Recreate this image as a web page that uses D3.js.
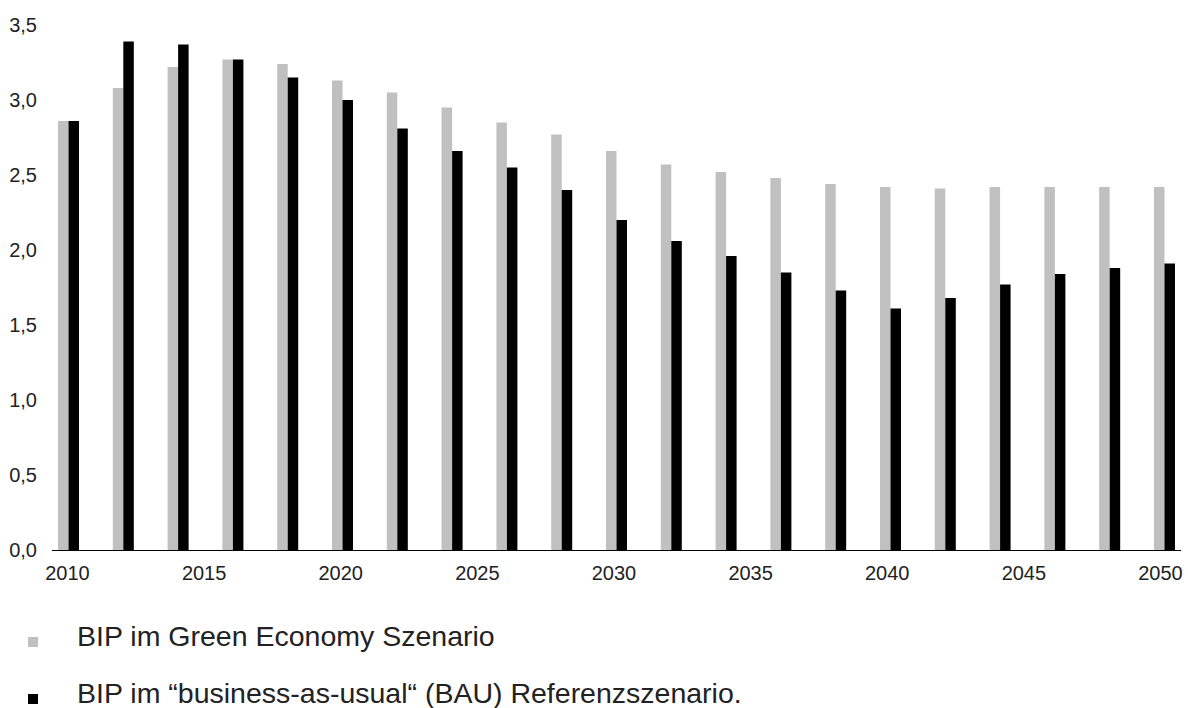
<!DOCTYPE html>
<html>
<head>
<meta charset="utf-8">
<script src="https://cdn.jsdelivr.net/npm/d3@7"></script>
<style>
  html, body { margin: 0; padding: 0; background: #fff; }
  svg { display: block; font-family: "Liberation Sans", Arial, sans-serif; }
</style>
</head>
<body>
<svg id="chart" width="1188" height="708"></svg>
<script>
// Years shown as bar groups (two-year steps)
const years = [2010, 2012, 2014, 2016, 2018, 2020, 2022, 2024, 2026, 2028, 2030,
               2032, 2034, 2036, 2038, 2040, 2042, 2044, 2046, 2048, 2050];
// BIP im Green Economy Szenario
const greenEconomy = [2.86, 3.08, 3.22, 3.27, 3.24, 3.13, 3.05, 2.95, 2.85, 2.77, 2.66,
                      2.57, 2.52, 2.48, 2.44, 2.42, 2.41, 2.42, 2.42, 2.42, 2.42];
// BIP im BAU Referenzszenario
const bau = [2.86, 3.39, 3.37, 3.27, 3.15, 3.00, 2.81, 2.66, 2.55, 2.40, 2.20,
             2.06, 1.96, 1.85, 1.73, 1.61, 1.68, 1.77, 1.84, 1.88, 1.91];
const yTicks = [0, 0.5, 1.0, 1.5, 2.0, 2.5, 3.0, 3.5];
const xTickYears = [2010, 2015, 2020, 2025, 2030, 2035, 2040, 2045, 2050];
const seriesNames = ["BIP im Green Economy Szenario",
                     "BIP im \u201Cbusiness-as-usual\u201C (BAU) Referenzszenario."];
const seriesColors = ["#c0c0c0", "#000000"];

const svg = d3.select("#chart");
const fmt = v => d3.format(".1f")(v).replace(".", ",");

const plot = { left: 52, right: 1181, top: 25, bottom: 550 };

const y = d3.scaleLinear().domain([0, 3.5]).range([plot.bottom, plot.top]);
const x = d3.scaleBand().domain(years).range([plot.left, plot.right])
  .paddingInner(0.617).paddingOuter(0.11);
const xSub = d3.scaleBand().domain([0, 1]).range([0, x.bandwidth()]);
const xYear = d3.scaleLinear().domain([2010, 2050]).range([67, 1160]);

// bars
const rows = years.map((yr, i) => ({ year: yr, vals: [greenEconomy[i], bau[i]] }));
const g = svg.append("g").selectAll("g").data(rows).join("g")
  .attr("transform", d => `translate(${x(d.year)},0)`);
g.selectAll("rect").data(d => d.vals.map((v, k) => ({ v, k }))).join("rect")
  .attr("x", d => xSub(d.k))
  .attr("width", xSub.bandwidth())
  .attr("y", d => y(d.v))
  .attr("height", d => y(0) - y(d.v))
  .attr("fill", d => seriesColors[d.k]);

// y axis labels only
const yAxis = d3.axisLeft(y).tickValues(yTicks).tickFormat(fmt).tickSize(0).tickPadding(0);
svg.append("g").attr("transform", "translate(37,0)").call(yAxis)
  .call(s => s.select(".domain").remove())
  .selectAll("text").attr("font-size", 20).attr("fill", "#222")
  .attr("font-family", "Liberation Sans, Arial, sans-serif");

// x axis: baseline and year labels
const xAxis = d3.axisBottom(xYear).tickValues(xTickYears).tickFormat(d3.format("d"))
  .tickSize(0).tickPadding(16);
const xg = svg.append("g").attr("transform", `translate(0,${plot.bottom})`).call(xAxis);
xg.select(".domain").remove();
xg.selectAll("text").attr("font-size", 20).attr("fill", "#222")
  .attr("font-family", "Liberation Sans, Arial, sans-serif");
svg.append("line")
  .attr("x1", plot.left).attr("x2", plot.right)
  .attr("y1", y(0) + 0.5).attr("y2", y(0) + 0.5)
  .attr("stroke", "#000").attr("stroke-width", 1);

// legend
const leg = svg.append("g").selectAll("g").data(seriesNames).join("g")
  .attr("transform", (d, i) => `translate(28,${646 + i * 57})`);
leg.append("rect").attr("x", 0).attr("y", -9).attr("width", 10).attr("height", 10)
  .attr("fill", (d, i) => seriesColors[i]);
leg.append("text").attr("x", 49).attr("y", 0)
  .attr("font-size", 28.5).attr("fill", "#222").text(d => d);
</script>
</body>
</html>
